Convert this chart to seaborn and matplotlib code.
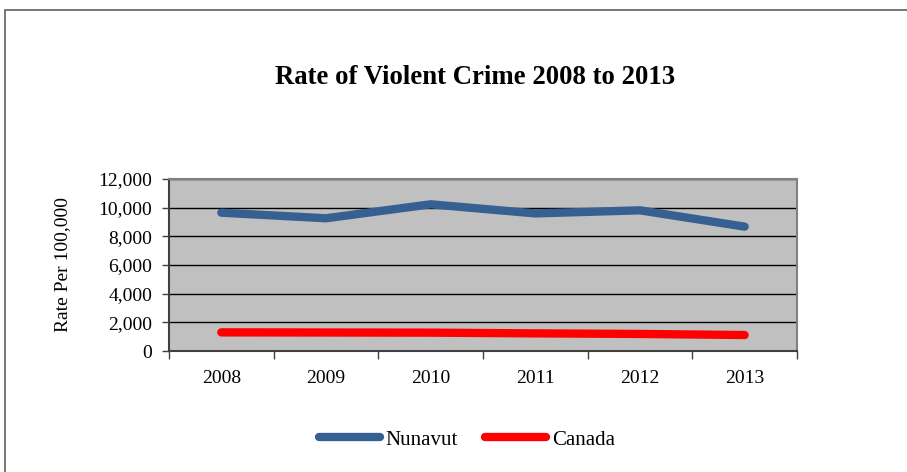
import pandas as pd
import numpy as np
import matplotlib.pyplot as plt
import matplotlib.patches as mpatches
import seaborn as sns

years = [2008, 2009, 2010, 2011, 2012, 2013]
nunavut = [9650, 9260, 10235, 9600, 9815, 8675]
canada = [1300, 1290, 1280, 1230, 1190, 1115]

df = pd.DataFrame({
    "year": years * 2,
    "rate": nunavut + canada,
    "region": ["Nunavut"] * len(years) + ["Canada"] * len(years),
})

sns.set_theme(style="white")
plt.rcParams["font.family"] = ["Liberation Serif", "DejaVu Serif"]
plt.rcParams["text.color"] = "black"
plt.rcParams["axes.labelcolor"] = "black"
plt.rcParams["xtick.color"] = "black"
plt.rcParams["ytick.color"] = "black"

fig = plt.figure(figsize=(9.07, 4.72), dpi=100)
ax = fig.add_axes([169 / 907, 1 - 351 / 472, (797 - 169) / 907, (351 - 179) / 472])

sns.lineplot(data=df, x="year", y="rate", hue="region",
             palette={"Nunavut": "#376092", "Canada": "#FF0000"},
             linewidth=6, ax=ax, legend=False,
             solid_capstyle="round", solid_joinstyle="round")

ax.set_facecolor("#C0C0C0")
ax.set_xlim(2007.5, 2013.5)
ax.set_ylim(0, 12000)
ax.set_yticks(np.arange(0, 12001, 2000))
ax.set_yticklabels([f"{v:,}" for v in range(0, 12001, 2000)])
ax.yaxis.grid(True, color="black", linewidth=1)
ax.set_axisbelow(True)

ax.set_xticks(years)
ax.set_xticklabels([str(y) for y in years])
ax.set_xticks(np.arange(2007.5, 2013.6, 1), minor=True)
ax.tick_params(axis="x", which="major", length=0, labelsize=14, pad=14)
ax.tick_params(axis="x", which="minor", length=6, width=1, color="#404040",
               direction="out")
ax.tick_params(axis="y", length=5, width=1, color="#404040", direction="out",
               labelsize=14, pad=7)
ax.tick_params(bottom=True, left=True, which="both")

for side in ["top", "right"]:
    ax.spines[side].set_color("#808080")
    ax.spines[side].set_linewidth(1.5)
for side in ["left", "bottom"]:
    ax.spines[side].set_color("#404040")
    ax.spines[side].set_linewidth(1.5)

ax.set_xlabel("")
ax.set_ylabel("Rate Per 100,000", fontsize=14, labelpad=20)

fig.text(475 / 907, 1 - 78 / 472, "Rate of Violent Crime 2008 to 2013",
         ha="center", va="center", fontsize=19.3, fontweight="bold")

handles = [plt.Line2D([], [], color="#376092", linewidth=6, solid_capstyle="round"),
           plt.Line2D([], [], color="#FF0000", linewidth=6, solid_capstyle="round")]
fig.legend(handles, ["Nunavut", "Canada"], loc="center",
           bbox_to_anchor=(467 / 907, 1 - 440 / 472), ncol=2, frameon=False,
           fontsize=15, handlelength=2.9, handletextpad=0.3, columnspacing=1.3)

border = mpatches.Rectangle((5 / 907, -0.1), 1.1, 1.1 - 10 / 472,
                            transform=fig.transFigure, fill=False,
                            edgecolor="#606060", linewidth=1.2)
fig.patches.append(border)

fig.savefig("out.png", dpi=100)
